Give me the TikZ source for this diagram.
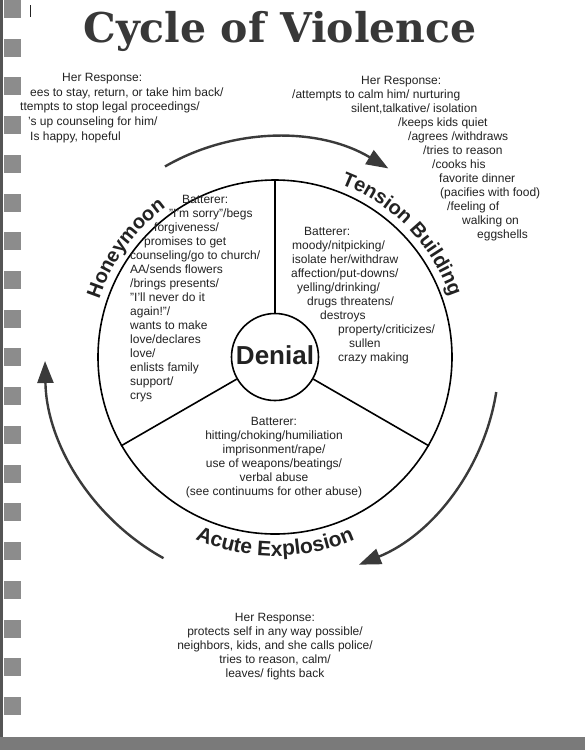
\documentclass[tikz,border=0pt]{standalone}
\usepackage{fontspec}
\setmainfont{Liberation Sans}
\newfontfamily\titlefont{DejaVu Serif}
\usetikzlibrary{arrows.meta,decorations.text,calc}
\definecolor{ink}{HTML}{222222}
\definecolor{titlegray}{HTML}{383838}
\definecolor{arrowgray}{HTML}{3A3A3A}
\definecolor{holegray}{HTML}{8C8C8C}
\definecolor{bandgray}{HTML}{7A7A7A}
\definecolor{edgegray}{HTML}{555555}
\newcommand\bodyfont{\fontsize{12}{14}\selectfont}
\newcommand\arcfont{\fontsize{20}{24}\selectfont\bfseries\color{ink}}
\newcommand\arcfontb{\fontsize{21}{24}\selectfont\bfseries\color{ink}}
\begin{document}
\begin{tikzpicture}[x=1pt,y=-1pt,
  txt/.style={inner sep=0pt, font=\bodyfont, text=ink, align=left, anchor=north west},
  ctxt/.style={inner sep=0pt, font=\bodyfont, text=ink, align=center, anchor=north},
  ring/.style={draw=black, line width=1.6pt, circle, inner sep=0pt},
  spoke/.style={draw=black, line width=1.6pt},
  cyc/.style={draw=arrowgray, line width=2.4pt, -{Triangle[length=22pt,width=16pt,fill=arrowgray]}},
  hole/.style={fill=holegray, draw=none}]
\useasboundingbox (0,0) rectangle (585,750);
\fill[white] (0,0) rectangle (585,750);
% page edge, binder holes, bottom band
\fill[edgegray] (0,0) rectangle (2.5,737);
\foreach \i in {0,...,18} \fill[hole] (4,\i*38.72) rectangle ++(17,18);
\fill[bandgray] (0,737) rectangle (585,750);
\draw[line width=0.8pt, ink] (30,5) -- (30,17);
% title
\node[font=\titlefont\bfseries\fontsize{41}{48}\selectfont, text=titlegray, inner sep=0pt, anchor=base] (title) at (280,42) {Cycle of Violence};
% wheel
\coordinate (C) at (275,357);
\node[ring, minimum size=354pt] (outer) at (C) {};
\node[ring, minimum size=87pt, font=\fontsize{26}{30}\selectfont\bfseries, text=ink] (denial) at (C) {\raisebox{4pt}{Denial}};
\draw[spoke] (denial.90) -- (outer.90);
\draw[spoke] (denial.210) -- (outer.210);
\draw[spoke] (denial.330) -- (outer.330);
% curved phase labels
\path[decorate, decoration={text along path, text align=center, text={|\arcfont|Honeymoon}}]
  ($(C)+(-174:185)$) arc[start angle=-174, end angle=-114, radius=185];
\path[decorate, decoration={text along path, text align=center, text={|\arcfont|Tension Building}}]
  ($(C)+(-82:185)$) arc[start angle=-82, end angle=-6, radius=185];
\path[decorate, decoration={text along path, text align=center, text={|\arcfontb|Acute Explosion}}]
  ($(C)+(-235:199)$) arc[start angle=-235, end angle=-305, radius=199];
% cycle arrows
\coordinate (a1) at ($(C)+(-120:220)$);
\coordinate (a2) at ($(C)+(9:224)$);
\coordinate (a3) at ($(C)+(119:230)$);
\draw[cyc] (a1) arc[start angle=-120, end angle=-59, radius=220];
\draw[cyc] (a2) arc[start angle=9, end angle=68, radius=224];
\draw[cyc] (a3) arc[start angle=119, end angle=179, radius=230];
% texts
\node[txt, font=\fontsize{12}{14.7}\selectfont] (hrleft) at (15,73) {\hspace*{47pt}Her Response:\\
\hspace*{15pt}ees to stay, return, or take him back/\\
\hspace*{5pt}ttempts to stop legal proceedings/\\
\hspace*{13pt}'s up counseling for him/\\
\hspace*{15pt}Is happy, hopeful};
\node[txt] (hrright) at (292,76) {\hspace*{69pt}Her Response:\\
/attempts to calm him/ nurturing\\
\hspace*{59pt}silent,talkative/ isolation\\
\hspace*{106pt}/keeps kids quiet\\
\hspace*{116pt}/agrees /withdraws\\
\hspace*{131pt}/tries to reason\\
\hspace*{140pt}/cooks his\\
\hspace*{147pt}favorite dinner\\
\hspace*{148pt}(pacifies with food)\\
\hspace*{155pt}/feeling of\\
\hspace*{170pt}walking on\\
\hspace*{185pt}eggshells};
\node[txt] (honey) at (130,195) {\hspace*{52pt}Batterer:\\
\hspace*{39pt}"I'm sorry"/begs\\
\hspace*{24pt}forgiveness/\\
\hspace*{14pt}promises to get\\
counseling/go to church/\\
AA/sends flowers\\
/brings presents/\\
"I'll never do it\\
again!"/\\
wants to make\\
love/declares\\
love/\\
enlists family\\
support/\\
crys};
\node[txt] (tension) at (291,227) {\hspace*{13pt}Batterer:\\
\hspace*{1pt}moody/nitpicking/\\
\hspace*{1pt}isolate her/withdraw\\
affection/put-downs/\\
\hspace*{6pt}yelling/drinking/\\
\hspace*{16pt}drugs threatens/\\
\hspace*{29pt}destroys\\
\hspace*{47pt}property/criticizes/\\
\hspace*{58pt}sullen\\
\hspace*{47pt}crazy making};
\node[ctxt] (acute) at (274,417) {Batterer:\\
hitting/choking/humiliation\\
imprisonment/rape/\\
use of weapons/beatings/\\
verbal abuse\\
(see continuums for other abuse)};
\node[ctxt] (hrbottom) at (275,613) {Her Response:\\
protects self in any way possible/\\
neighbors, kids, and she calls police/\\
tries to reason, calm/\\
leaves/ fights back};
\end{tikzpicture}
\end{document}
